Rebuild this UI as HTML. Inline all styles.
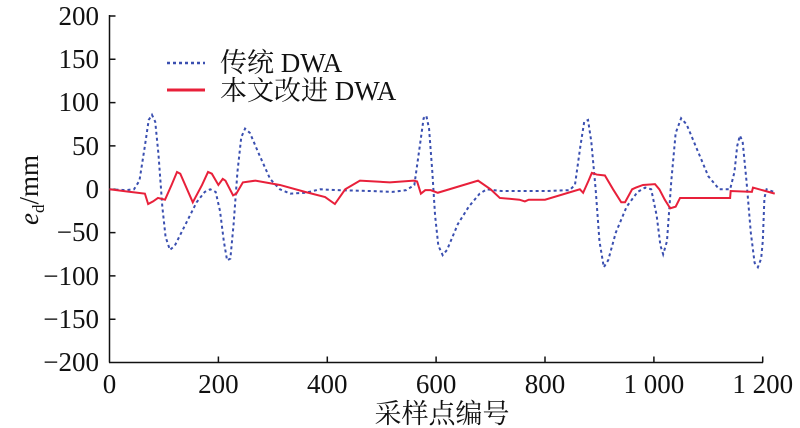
<!DOCTYPE html>
<html><head><meta charset="utf-8"><style>
body{margin:0;background:#fff;}
svg{display:block;font-family:"Liberation Serif","Noto Serif CJK SC",serif;}
</style></head><body>
<svg width="800" height="428" viewBox="0 0 800 428">
<g stroke="#111" stroke-width="1.5" fill="none">
<line x1="109.5" y1="15" x2="109.5" y2="362.5"/>
<line x1="109" y1="362.5" x2="763" y2="362.5"/>
<path d="M109.5 16h6M109.5 59.3h6M109.5 102.6h6M109.5 145.9h6M109.5 189.3h6M109.5 232.6h6M109.5 275.9h6M109.5 319.2h6"/>
<path d="M218.4 362.5v-6M327.3 362.5v-6M436.1 362.5v-6M545 362.5v-6M653.9 362.5v-6M762.7 362.5v-6"/>
</g>
<g font-size="27" fill="#111" text-anchor="end">
<text x="99" y="25">200</text><text x="99" y="68">150</text><text x="99" y="111">100</text>
<text x="99" y="155">50</text><text x="99" y="198">0</text><text x="99" y="241">−50</text>
<text x="99" y="285">−100</text><text x="99" y="328">−150</text><text x="99" y="371">−200</text>
</g>
<g font-size="27" fill="#111" text-anchor="middle">
<text x="109.5" y="393">0</text><text x="218.4" y="393">200</text><text x="327.3" y="393">400</text>
<text x="436.1" y="393">600</text><text x="545" y="393">800</text><text x="653.9" y="393">1 000</text><text x="762.7" y="393">1 200</text>
</g>
<text x="442" y="423" font-size="27" text-anchor="middle" fill="#111">采样点编号</text>
<text transform="translate(38,190) rotate(-90)" font-size="27" text-anchor="middle" fill="#111"><tspan font-style="italic">e</tspan><tspan font-size="17" dy="6">d</tspan><tspan dy="-6">/mm</tspan></text>
<line x1="167" y1="63" x2="205" y2="63" stroke="#3a4fb0" stroke-width="2.5" stroke-dasharray="3,3"/>
<line x1="167" y1="90" x2="205" y2="90" stroke="#e8203a" stroke-width="3"/>
<text x="220" y="72" font-size="27" fill="#111">传统 DWA</text>
<text x="220" y="100" font-size="27" fill="#111">本文改进 DWA</text>
<g transform="translate(109.5,189.3) scale(0.5444,-0.866)" fill="none">
<polyline vector-effect="non-scaling-stroke" stroke="#3a4fb0" stroke-width="2" stroke-dasharray="3,3" points="0,0 30,-1 45,0 55,10 65,50 72,80 78,86 84,78 90,40 97,-20 103,-55 111,-70 120,-65 140,-40 160,-15 175,-3 185,0 195,-3 203,-25 210,-60 216,-82 222,-80 228,-40 235,20 242,60 249,70 258,65 275,40 295,12 313,0 332,-5 360,-4 387,0 420,-1 480,-2 520,-3 545,-1 560,5 570,50 577,82 582,85 587,70 593,20 598,-30 604,-65 612,-76 620,-70 640,-40 660,-20 680,-5 693,0 720,-2 800,-2 845,-1 855,5 865,50 872,78 879,80 885,55 893,0 900,-60 908,-90 916,-82 930,-50 950,-20 970,-3 984,2 995,0 1005,-30 1012,-65 1017,-75 1024,-60 1032,10 1040,65 1050,82 1060,75 1080,45 1100,15 1120,0 1140,0 1148,20 1153,50 1158,62 1163,55 1170,10 1178,-50 1185,-85 1191,-90 1197,-80 1200,-60 1203,-10 1207,0 1220,-3"/>
<polyline vector-effect="non-scaling-stroke" stroke="#e8203a" stroke-width="2" points="0,0 38,-3 65,-5 71,-17 80,-14 89,-10 102,-12 114,5 124,20 130,18 153,-15 170,5 181,20 188,18 200,5 208,12 213,10 227,-7 233,-5 245,8 268,10 313,5 359,-3 396,-9 414,-17 433,0 460,10 515,8 559,10 565,9 572,-5 580,-1 590,-1 603,-4 677,10 700,0 717,-10 753,-12 763,-14 770,-12 800,-12 864,0 870,-4 880,10 886,19 895,17 910,16 925,0 940,-15 947,-15 960,0 967,2 980,5 1002,6 1010,0 1020,-12 1030,-22 1040,-20 1048,-10 1140,-10 1141,-2 1180,-3 1182,2 1222,-5"/>
</g>
</svg>
</body></html>
